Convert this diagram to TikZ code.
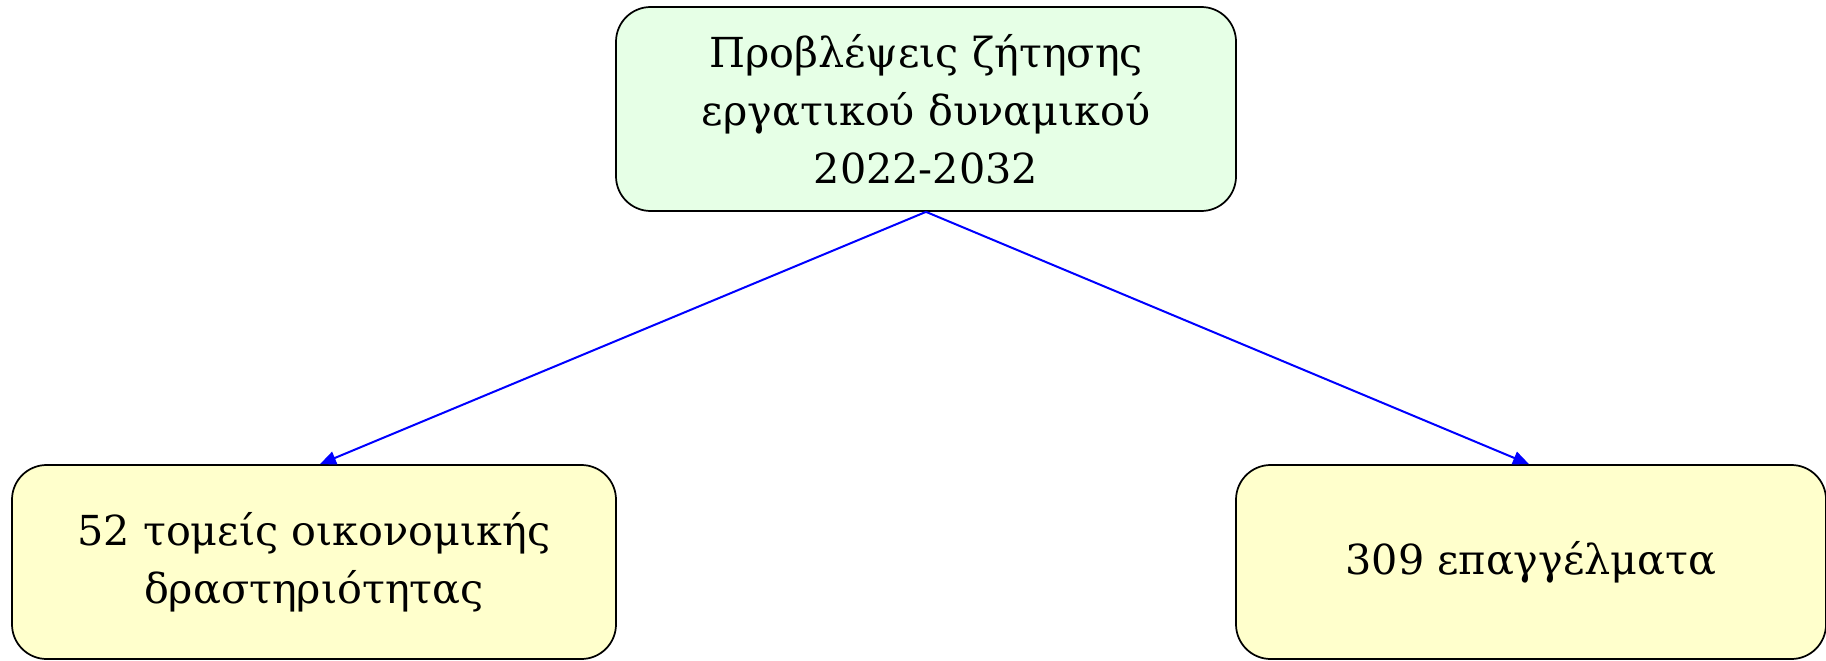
\documentclass[tikz,border=0pt]{standalone}
\usepackage{fontspec}
\setmainfont{DejaVu Serif}
\usetikzlibrary{arrows.meta}
\definecolor{topfill}{RGB}{230,255,230}
\definecolor{botfill}{RGB}{255,255,204}
\tikzset{
  box/.style={draw=black, line width=1.3pt, rounded corners=26pt, align=center,
    font=\fontsize{31}{43.5}\selectfont, inner sep=0pt},
  link/.style={draw=blue, line width=1.5pt, -{Triangle[length=12pt,width=10pt]}}
}
\begin{document}
\begin{tikzpicture}[x=0.75pt,y=-0.75pt]
\useasboundingbox (0,0) rectangle (1826,660);
\node[box, fill=topfill, minimum width=465pt, minimum height=153pt] (top) at (926,109)
  {Προβλέψεις ζήτησης\\εργατικού δυναμικού\\2022-2032};
\node[box, fill=botfill, minimum width=453pt, minimum height=145.5pt] (left) at (314,562)
  {52 τομείς οικονομικής\\δραστηριότητας};
\node[box, fill=botfill, minimum width=442.5pt, minimum height=145.5pt] (right) at (1531,562)
  {309 επαγγέλματα};
\draw[link] (top.south) -- ([xshift=4.5pt]left.north);
\draw[link] (top.south) -- ([xshift=-1.5pt]right.north);
\end{tikzpicture}
\end{document}
